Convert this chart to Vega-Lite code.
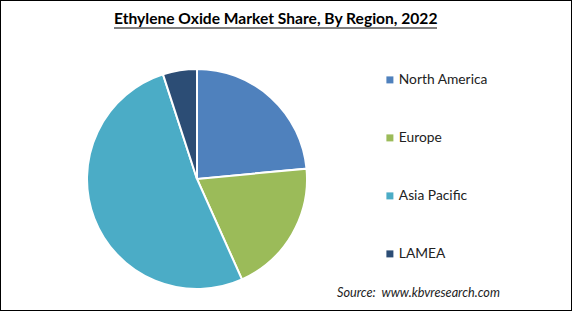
{
  "$schema": "https://vega.github.io/schema/vega-lite/v6.json",
  "width": 572,
  "height": 311,
  "padding": 0,
  "autosize": {"type": "none"},
  "background": "white",
  "view": {"stroke": "black", "strokeWidth": 2, "fill": "white"},
  "config": {"view": {"stroke": "black", "strokeWidth": 2}, "font": "Lato"},
  "title": {
    "text": "Ethylene Oxide Market Share, By Region, 2022",
    "anchor": "start",
    "frame": "group",
    "orient": "top",
    "baseline": "alphabetic",
    "offset": 0,
    "dx": 114,
    "dy": 40,
    "font": "Lato",
    "fontSize": 15.6,
    "fontWeight": "bold",
    "color": "black"
  },
  "layer": [
    {
      "data": {
        "values": [
          {"region": "North America", "share": 23.5, "idx": 1},
          {"region": "Europe", "share": 19.8, "idx": 2},
          {"region": "Asia Pacific", "share": 51.7, "idx": 3},
          {"region": "LAMEA", "share": 5.0, "idx": 4}
        ]
      },
      "mark": {"type": "arc", "x": 197, "y": 179, "outerRadius": 110, "stroke": "white", "strokeWidth": 2},
      "encoding": {
        "theta": {"field": "share", "type": "quantitative", "stack": true},
        "order": {"field": "idx", "type": "quantitative"},
        "color": {
          "field": "region",
          "type": "nominal",
          "scale": {
            "domain": ["North America", "Europe", "Asia Pacific", "LAMEA"],
            "range": ["#4F81BD", "#9BBB59", "#4BACC6", "#2C4D75"]
          },
          "legend": {
            "orient": "none",
            "legendX": 383,
            "legendY": 73,
            "title": null,
            "symbolType": "square",
            "symbolSize": 49,
            "symbolStrokeWidth": 0,
            "labelFont": "Lato",
            "labelFontSize": 13.8,
            "labelColor": "#222222",
            "labelOffset": 2,
            "rowPadding": 43
          }
        }
      }
    },
    {
      "data": {"values": [{"text": "Source:\u00a0 www.kbvresearch.com"}]},
      "mark": {"type": "text", "x": 337, "y": 297, "align": "left", "baseline": "alphabetic", "fontStyle": "italic", "fontSize": 12.7, "font": "Lato", "color": "#222222"},
      "encoding": {"text": {"field": "text"}}
    },
    {
      "data": {"values": [{}]},
      "mark": {"type": "rule", "strokeWidth": 1, "color": "black"},
      "encoding": {"x": {"value": 114}, "x2": {"value": 437}, "y": {"value": 28}}
    }
  ]
}
